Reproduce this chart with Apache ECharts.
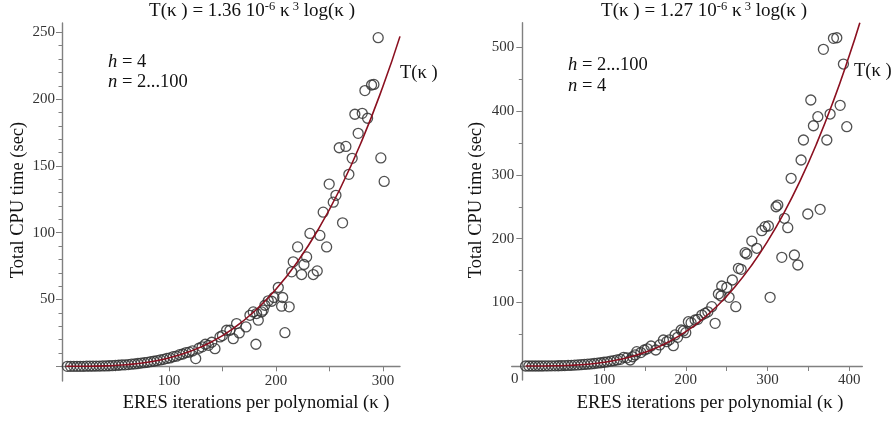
<!DOCTYPE html>
<html><head><meta charset="utf-8">
<script src="https://cdn.jsdelivr.net/npm/echarts@6/dist/echarts.min.js"></script>
<style>html,body{margin:0;padding:0;background:#fff}#c{width:893px;height:422px}</style>
</head><body><div id="c"></div>
<script>
// ---------- data ----------
const leftPoints = [
 [5,0],[8,0],[11,0],[14,0],[17,0],[20,0],[23,0.1],[26,0.1],[29,0.1],[32,0.2],[35,0.2],[38,0.3],[41,0.3],[44,0.4],[47,0.5],
 [50,0.7],[53,0.8],[56,1.0],[59,1.1],[62,1.3],[65,1.6],[68,1.8],[71,2.1],[74,2.4],[77,2.7],[80,3.0],[83,3.5],[86,3.8],
 [89,4.3],[92,4.8],[95,5.2],[98,5.9],[101,6.3],[104,7.2],[107,7.6],[110,8.7],[113,9.2],[116,10.3],[119,10.6],[122,11.5],
 [125,5.8],[128,13.5],[131,14.6],[134,16.5],[137,15.7],[140,18.0],
 [143,13.2],[147.7,22],[150,23],[153.9,27],[157,27],[160.1,20.7],[163.2,32],[165.7,25],[172,29.5],[175.7,38.2],
 [178.8,40.7],[181.3,16.5],[181.9,39.5],[183.5,34.5],[186.6,40.7],[188.1,42],[189.7,45.7],[192.8,49],[196,48.7],[198.1,51.5],
 [202.2,59],[205.3,45],[206.3,51.5],[208.4,25.2],[212.4,44.5],[214.7,70.7],[216.2,78.2],[220.3,89.4],[224,68.7],
 [226.2,76.2],[228.7,81.9],[231.8,99.5],[234.9,68.7],[238.6,71.4],[241.1,98],[244.2,115.4],[247.4,89.4],[249.8,136.4],[253.6,122.9],
 [256.1,128],[259.2,163.6],[262.3,107.4],[265.4,164.6],[268.2,143.7],[271.3,155.7],[273.8,188.7],[276.9,174.4],[280.7,189.4],[283.2,206.4],
 [285.7,185.7],[289.4,210.6],[291.6,211],[295.6,246],[298.1,156],[301.2,138.4]
];
const rightPoints = [
 [4,0],[8,0],[12,0],[16,0],[20,0],[24,0],[28,0.1],[32,0.1],[36,0.2],[40,0.3],[44,0.4],[48,0.5],[52,0.7],[56,0.9],[60,1.1],
 [64,1.4],[68,1.7],[72,2.0],[76,2.4],[80,2.9],[84,3.3],[88,3.9],[92,4.5],[96,5.1],[100,5.9],[104,6.6],[108,7.5],[112,8.4],
 [116,9.5],[120,10.5],[124,13.6],[128,12.8],[132,9.4],[135,14.5],
 [138,17.3],[140,22.5],[145,21],[149.3,25.1],[153,27],[157.5,31.4],[163.3,25.1],[168,33],[172.6,40.8],[176.7,38.2],[180,41],
 [184.8,31.9],[186.9,48.7],[190,45],[194.3,56.5],[197,55],[200,52.3],[203.2,69.5],[206.5,68],[211.4,72.2],[214.7,73.3],
 [219.6,80],[223.6,82.7],[227,85],[231.8,93.1],[235.9,67],[239.9,113],[243.2,109.9],[244,125.6],[250.2,123.5],[253,107.8],
 [257,135],[261.2,93.1],[264.4,153.3],[267.7,151.8],[272.6,177.9],[274.7,175.8],[280.8,196.2],[286.9,184.8],[293,212.4],
 [297.1,218.7],[301.1,219.8],[303.2,107.8],[310.5,250],[312.6,252.7],[317.5,170.6],[320.7,231.9],[324.8,217.2],[328.9,294.7],
 [332.9,174.3],[337.1,158.6],[341.1,323.4],[344,354.8],[349.3,238.6],[353,417.6],[356.2,377.2],[361.6,391.4],[364.4,246],
 [368.4,497.2],[372.6,354.8],[376.6,395.6],[380.7,514.4],[384.8,515.4],[388.9,409.3],[392.9,474.1],[397,375.7]
];
const leftCurve = [
 [4,0],[20,0.03],[40,0.32],[60,1.2],[80,3.05],[100,6.26],[120,11.25],[140,18.44],[160,28.27],[180,41.19],
 [200,57.65],[220,78.11],[240,103.05],[260,132.92],[280,168.23],[300,209.45],[316,246.99]
];
const rightCurve = [
 [4,0],[20,0.03],[40,0.30],[60,1.12],[80,2.85],[100,5.85],[120,10.51],[140,17.22],[160,26.40],[180,38.46],
 [200,53.83],[220,72.94],[240,96.23],[260,124.13],[280,157.10],[300,195.59],[320,240.04],[340,290.96],
 [360,348.76],[380,413.94],[400,486.96],[413,538.9]
];
const leftXTicks = [50,100,150,200,250,300];
const leftXLabels = [100,200,300];
const leftYTicks = [0,50,100,150,200,250];
const leftYLabels = [50,100,150,200,250];
const leftYMinor = [10,20,30,40,60,70,80,90,110,120,130,140,160,170,180,190,210,220,230,240];
const rightXTicks = [50,100,150,200,250,300,350,400];
const rightXLabels = [100,200,300,400];
const rightYTicks = [0,100,200,300,400,500];
const rightYLabels = [100,200,300,400,500];
const rightYMinor = [50,150,250,350,450];
const xTitle = 'ERES iterations per polynomial (κ )';
const yTitle = 'Total CPU time (sec)';

// ---------- chart ----------
const FONT = 'Liberation Serif';
const AX = '#808080';
const chart = echarts.init(document.getElementById('c'), null, {renderer:'canvas'});

function xAxisCfg(gi, min, max, ticks, labels, margin){
  return {
    gridIndex: gi, type:'value', min:min, max:max,
    axisLine:{show:true, onZero:true, lineStyle:{color:AX, width:1.4}},
    axisTick:{show:true, length:5, customValues:ticks, lineStyle:{color:AX, width:1}},
    axisLabel:{customValues:labels, margin:margin, fontFamily:FONT, fontSize:15, color:'#333'},
    splitLine:{show:false}
  };
}
function yAxisCfg(gi, min, max, ticks, labels, margin){
  return {
    gridIndex: gi, type:'value', min:min, max:max, position:'left',
    axisLine:{show:true, onZero:true, lineStyle:{color:AX, width:1.4}},
    axisTick:{show:true, length:6, customValues:ticks, lineStyle:{color:AX, width:1}},
    axisLabel:{customValues:labels, margin:margin, fontFamily:FONT, fontSize:15, color:'#333'},
    splitLine:{show:false}
  };
}
function yMinorCfg(gi, min, max, ticks, off){
  return {
    gridIndex: gi, type:'value', min:min, max:max, position:'left', offset:off,
    axisLine:{show:false, onZero:false},
    axisTick:{show:true, length:3.5, customValues:ticks, lineStyle:{color:AX, width:1}},
    axisLabel:{show:false}, splitLine:{show:false}
  };
}
const scatterStyle = {color:'rgba(0,0,0,0)', borderColor:'#333', borderWidth:1.3, opacity:0.85};
const curveStyle = {color:'#8b1020', width:1.6};
const titleStyle = {fontFamily:FONT, fontSize:19, fontWeight:'normal', color:'#111',
  rich:{s:{fontFamily:FONT, fontSize:12.5, color:'#111', padding:[0,0,9,0]}}};
const annoRich = {i:{fontFamily:FONT, fontSize:18.5, fontStyle:'italic', color:'#111'}};
function axisTitle(text, x, y, rot){
  return {type:'text', x:x, y:y, rotation:rot, style:{text:text, fontFamily:FONT, fontSize:18.5, fill:'#111', align:'center', verticalAlign:'middle'}};
}

chart.setOption({
  animation:false,
  backgroundColor:'#fff',
  title:[
    {text:'T(κ ) = 1.36 10{s|-6} κ{s| 3} log(κ )', left:252, top:0, padding:0, textAlign:'center', textStyle:titleStyle},
    {text:'T(κ ) = 1.27 10{s|-6} κ{s| 3} log(κ )', left:704, top:0, padding:0, textAlign:'center', textStyle:titleStyle}
  ],
  grid:[
    {left:62, width:338, top:23, height:358, outerBoundsMode:'none', containLabel:false},
    {left:511.7, width:350.6, top:22.7, height:357.3, outerBoundsMode:'none', containLabel:false}
  ],
  xAxis:[
    xAxisCfg(0, 0, 316, leftXTicks, leftXLabels, -7),
    xAxisCfg(1, -13, 416, rightXTicks, rightXLabels, -7)
  ],
  yAxis:[
    yAxisCfg(0, -11, 257, leftYTicks, leftYLabels, 7),
    yMinorCfg(0, -11, 257, leftYMinor, 0),
    yAxisCfg(1, -22, 539, rightYTicks, rightYLabels, -2.5),
    yMinorCfg(1, -22, 539, rightYMinor, -10.6)
  ],
  graphic:[
    axisTitle(xTitle, 256, 403, 0),
    axisTitle(xTitle, 710, 403, 0),
    axisTitle(yTitle, 18.5, 200, Math.PI/2),
    axisTitle(yTitle, 476, 200, Math.PI/2),
    {type:'text', x:108, y:53, style:{text:'{i|h} = 4', fontFamily:FONT, fontSize:18.5, fill:'#111', rich:annoRich}},
    {type:'text', x:108, y:73, style:{text:'{i|n} = 2...100', fontFamily:FONT, fontSize:18.5, fill:'#111', rich:annoRich}},
    {type:'text', x:568, y:56, style:{text:'{i|h} = 2...100', fontFamily:FONT, fontSize:18.5, fill:'#111', rich:annoRich}},
    {type:'text', x:568, y:77, style:{text:'{i|n} = 4', fontFamily:FONT, fontSize:18.5, fill:'#111', rich:annoRich}},
    {type:'text', x:400, y:64, style:{text:'T(κ )', fontFamily:FONT, fontSize:18.5, fill:'#111'}},
    {type:'text', x:854, y:62, style:{text:'T(κ )', fontFamily:FONT, fontSize:18.5, fill:'#111'}},
    {type:'text', x:511, y:372, style:{text:'0', fontFamily:FONT, fontSize:15, fill:'#333'}}
  ],
  series:[
    {type:'scatter', xAxisIndex:0, yAxisIndex:0, data:leftPoints, symbol:'circle', symbolSize:10, itemStyle:scatterStyle, silent:true, z:2},
    {type:'line', xAxisIndex:0, yAxisIndex:0, data:leftCurve, smooth:true, showSymbol:false, lineStyle:curveStyle, silent:true, z:3},
    {type:'scatter', xAxisIndex:1, yAxisIndex:2, data:rightPoints, symbol:'circle', symbolSize:10, itemStyle:scatterStyle, silent:true, z:2},
    {type:'line', xAxisIndex:1, yAxisIndex:2, data:rightCurve, smooth:true, showSymbol:false, lineStyle:curveStyle, silent:true, z:3}
  ]
});
</script></body></html>
